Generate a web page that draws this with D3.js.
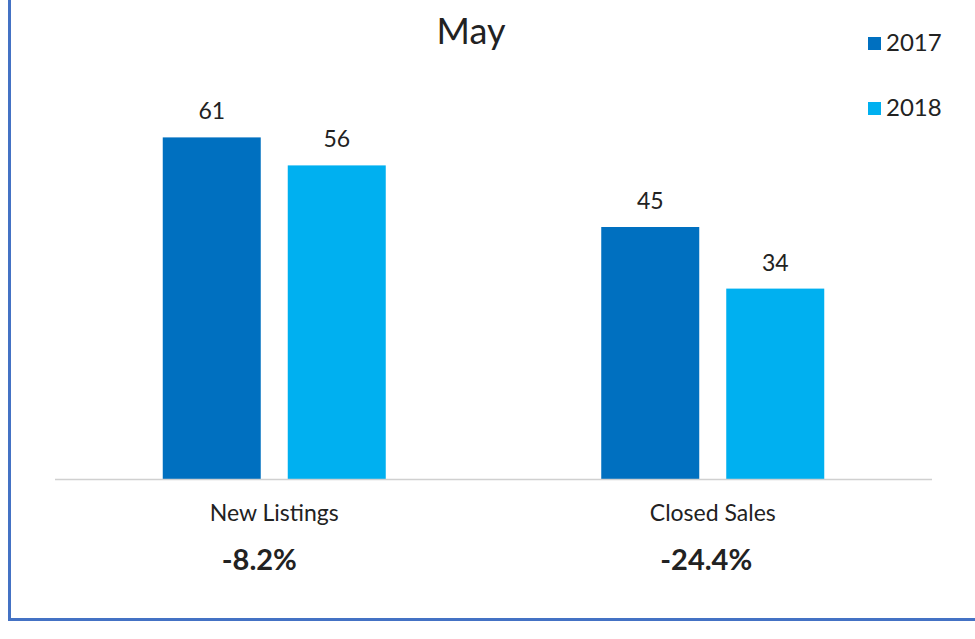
<!DOCTYPE html>
<html>
<head>
<meta charset="utf-8">
<script src="https://cdn.jsdelivr.net/npm/d3@7"></script>
<style>
  body { margin: 0; background: #fff; }
  text { font-family: Lato, "Open Sans", sans-serif; fill: #222; }
</style>
</head>
<body>
<div id="container"></div>
<script>
/* DATA */
const categories = ["New Listings", "Closed Sales"];
const years = ["2017", "2018"];
const values2017 = [61, 45];
const values2018 = [56, 34];
const changes = ["-8.2%", "-24.4%"];

/* CONSTANTS */
const width = 975, height = 639;
const colors = ["#0070C0", "#00B0F0"];

const data = categories.map((c, i) => ({
  category: c,
  change: changes[i],
  values: [
    { year: years[0], value: values2017[i] },
    { year: years[1], value: values2018[i] }
  ]
}));

const svg = d3.select("#container")
  .append("svg")
  .attr("width", width)
  .attr("height", height);

// frame (left + bottom only)
svg.append("line")
  .attr("x1", 9.5).attr("x2", 9.5).attr("y1", 0).attr("y2", 620)
  .attr("stroke", "#4472C4").attr("stroke-width", 3);
svg.append("line")
  .attr("x1", 8).attr("x2", width).attr("y1", 619.5).attr("y2", 619.5)
  .attr("stroke", "#4472C4").attr("stroke-width", 3);

/* SCALES */
const baseline = 479;
const groupWidth = 223;
const xScale = d3.scaleBand()
  .domain(categories)
  .range([55, 932]);

const xInner = d3.scaleBand()
  .domain(years)
  .range([0, groupWidth])
  .paddingInner(0.216);

const yScale = d3.scaleLinear()
  .domain([0, 70])
  .range([baseline, baseline - 70 * 5.6]);

const colorScale = d3.scaleOrdinal().domain(years).range(colors);

const groupLeft = c => xScale(c) + (xScale.bandwidth() - groupWidth) / 2;

// title
svg.append("text")
  .attr("x", 471).attr("y", 44)
  .attr("text-anchor", "middle")
  .style("font-size", "36px")
  .text("May");

// bars
const groups = svg.selectAll("g.group")
  .data(data)
  .join("g")
  .attr("class", "group")
  .attr("transform", d => `translate(${groupLeft(d.category)},0)`);

groups.selectAll("rect")
  .data(d => d.values)
  .join("rect")
  .attr("x", d => xInner(d.year))
  .attr("y", d => yScale(d.value))
  .attr("width", xInner.bandwidth())
  .attr("height", d => yScale(0) - yScale(d.value))
  .attr("fill", d => colorScale(d.year));

groups.selectAll("text.val")
  .data(d => d.values)
  .join("text")
  .attr("class", "val")
  .attr("x", d => xInner(d.year) + xInner.bandwidth() / 2)
  .attr("y", d => yScale(d.value) - 18)
  .attr("text-anchor", "middle")
  .style("font-size", "23px")
  .text(d => d.value);

// axis line
svg.append("line")
  .attr("x1", 55).attr("x2", 932)
  .attr("y1", baseline + 0.5).attr("y2", baseline + 0.5)
  .attr("stroke", "#d0d0d0").attr("stroke-width", 1.5);

// category labels
const xAxis = d3.axisBottom(xScale).tickSize(0).tickPadding(0);
const axisG = svg.append("g")
  .attr("transform", `translate(0,${baseline})`)
  .call(xAxis);
axisG.select(".domain").remove();
axisG.selectAll("text")
  .attr("dy", null)
  .attr("y", 42)
  .style("font-family", "Lato, 'Open Sans', sans-serif")
  .style("font-size", "23px")
  .attr("fill", "#222");

// change percentages
svg.selectAll("text.change")
  .data(data)
  .join("text")
  .attr("class", "change")
  .attr("x", d => groupLeft(d.category) + 59)
  .attr("y", 570)
  .attr("text-anchor", "start")
  .style("font-size", "29px")
  .style("font-weight", "bold")
  .text(d => d.change);

// legend
const legend = svg.selectAll("g.legend")
  .data(years)
  .join("g")
  .attr("class", "legend")
  .attr("transform", (d, i) => `translate(868,${37 + i * 65})`);
legend.append("rect")
  .attr("width", 13).attr("height", 13)
  .attr("fill", d => colorScale(d));
legend.append("text")
  .attr("x", 18).attr("y", 14)
  .style("font-size", "24px")
  .text(d => d);
</script>
</body>
</html>
